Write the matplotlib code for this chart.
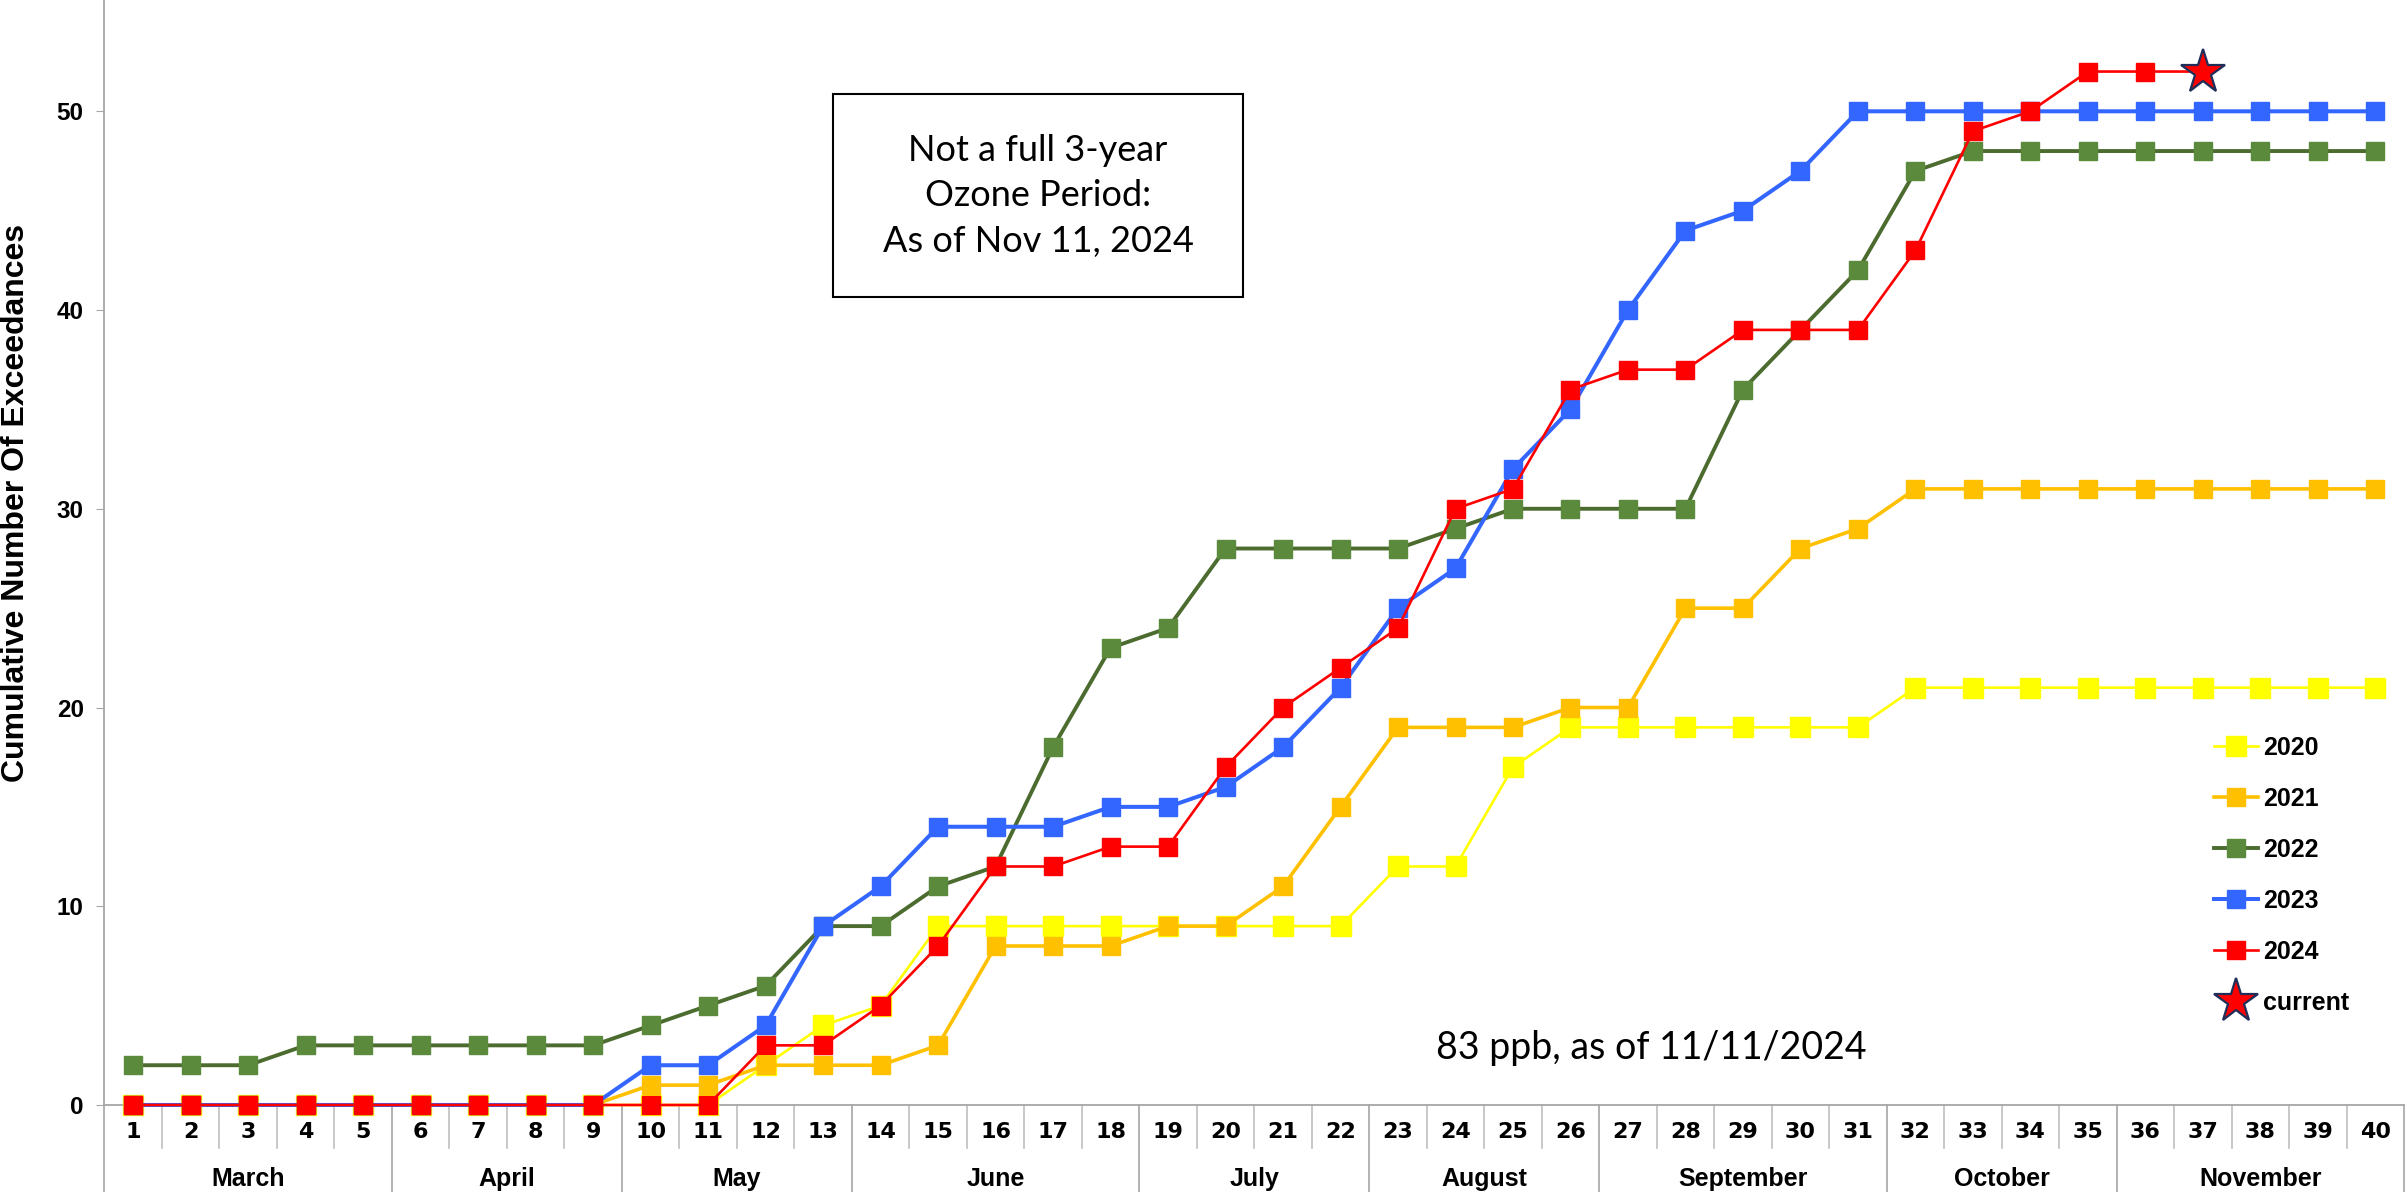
import matplotlib.pyplot as plt
import matplotlib.transforms as mtransforms
from matplotlib.patches import Rectangle

# week numbers and month groups under the axis
weeks = list(range(1, 41))
months = ['March', 'April', 'May', 'June', 'July', 'August', 'September', 'October', 'November']
weeks_per_month = [5, 4, 4, 5, 4, 4, 5, 4, 5]

# cumulative exceedances per week
y2020 = [0, 0, 0, 0, 0, 0, 0, 0, 0, 0, 0, 2, 4, 5, 9, 9, 9, 9, 9, 9,
         9, 9, 12, 12, 17, 19, 19, 19, 19, 19, 19, 21, 21, 21, 21, 21, 21, 21, 21, 21]
y2021 = [0, 0, 0, 0, 0, 0, 0, 0, 0, 1, 1, 2, 2, 2, 3, 8, 8, 8, 9, 9,
         11, 15, 19, 19, 19, 20, 20, 25, 25, 28, 29, 31, 31, 31, 31, 31, 31, 31, 31, 31]
y2022 = [2, 2, 2, 3, 3, 3, 3, 3, 3, 4, 5, 6, 9, 9, 11, 12, 18, 23, 24, 28,
         28, 28, 28, 29, 30, 30, 30, 30, 36, 39, 42, 47, 48, 48, 48, 48, 48, 48, 48, 48]
y2023 = [0, 0, 0, 0, 0, 0, 0, 0, 0, 2, 2, 4, 9, 11, 14, 14, 14, 15, 15, 16,
         18, 21, 25, 27, 32, 35, 40, 44, 45, 47, 50, 50, 50, 50, 50, 50, 50, 50, 50, 50]
y2024 = [0, 0, 0, 0, 0, 0, 0, 0, 0, 0, 0, 3, 3, 5, 8, 12, 12, 13, 13, 17,
         20, 22, 24, 30, 31, 36, 37, 37, 39, 39, 39, 43, 49, 50, 52, 52]
current_week = 37
current_value = 52

fig = plt.figure(figsize=(24.07, 11.92), dpi=100)
ax = fig.add_axes([0.0434, 0.073, 0.9554, 0.927])

ax.plot(weeks, y2020, color='#FFFF00', lw=1.9, marker='s', ms=14.5,
        mfc='#FFFF00', mec='#FFFF00', label='2020', clip_on=False, zorder=3)
ax.plot(weeks, y2021, color='#FFC000', lw=2.6, marker='s', ms=12.5,
        mfc='#FFC000', mec='#FFC000', label='2021', clip_on=False, zorder=3)
ax.plot(weeks, y2022, color='#4B6B2F', lw=2.8, marker='s', ms=12.5,
        mfc='#5B8A3C', mec='#5B8A3C', label='2022', clip_on=False, zorder=3)
ax.plot(weeks, y2023, color='#3366FF', lw=2.9, marker='s', ms=12.5,
        mfc='#3366FF', mec='#3366FF', label='2023', clip_on=False, zorder=3)
# 2024 line runs on to the current point
x24 = weeks[:len(y2024)] + [current_week]
ax.plot(x24, y2024 + [current_value], color='#FF0000', lw=1.9, marker='s', ms=12.5,
        mfc='#FF0000', mec='#FF0000', markevery=list(range(len(y2024))),
        label='2024', clip_on=False, zorder=4)
ax.plot([current_week], [current_value], ls='none', marker='*', ms=33,
        mfc='#FF0000', mec='#1F2F5A', mew=1.6, label='current', zorder=5)

ax.set_xlim(0.5, 40.5)
ax.set_ylim(0, 55.6)
ax.set_yticks([0, 10, 20, 30, 40, 50])
ax.set_xticks(weeks)
ax.set_xticklabels([str(w) for w in weeks], fontfamily='DejaVu Sans',
                   fontweight='bold', fontsize=16)
for lab in ax.get_yticklabels():
    lab.set_fontfamily('Liberation Sans')
    lab.set_fontweight('bold')
    lab.set_fontsize(17.5)
ax.tick_params(axis='x', length=0, pad=12)
ax.tick_params(axis='y', length=6, color='#A6A6A6', pad=9)

for s in ['top', 'right']:
    ax.spines[s].set_visible(False)
ax.spines['left'].set_color('#A6A6A6')
ax.spines['bottom'].set_color('#A6A6A6')
ax.spines['left'].set_linewidth(1.3)
ax.spines['bottom'].set_linewidth(1.3)

# separators under the axis
trans = mtransforms.blended_transform_factory(ax.transData, ax.transAxes)
edges = [0.5]
for n in weeks_per_month:
    edges.append(edges[-1] + n)
for w in range(41):
    x = w + 0.5
    low = -0.08 if x in edges else -0.039
    color = '#A6A6A6' if x in edges else '#BFBFBF'
    ax.plot([x, x], [0, low], color=color, lw=1.2, transform=trans, clip_on=False)
for i, m in enumerate(months):
    ax.text((edges[i] + edges[i + 1]) / 2, -0.0735, m, transform=trans,
            ha='center', va='baseline', fontfamily='Liberation Sans',
            fontweight='bold', fontsize=18)

fig.text(0.0065, 1 - 503 / 1192, 'Cumulative Number Of Exceedances', rotation=90,
         ha='center', va='center', fontfamily='Liberation Sans',
         fontweight='bold', fontsize=23)

leg = ax.legend(loc='upper left', bbox_to_anchor=(2214 / 2407, 1 - 736 / 1192),
                bbox_transform=fig.transFigure, frameon=False, borderpad=0,
                borderaxespad=0, handlelength=1.75, handletextpad=0.2,
                labelspacing=1.08, prop={'family': 'Liberation Sans',
                                          'weight': 'bold', 'size': 18})

# note box
fig.patches.append(Rectangle((833 / 2407, 1 - 297 / 1192), 410 / 2407, 203 / 1192,
                             transform=fig.transFigure, fill=False,
                             edgecolor='black', lw=1.5))
fig.text(1038 / 2407, 1 - 196 / 1192,
         'Not a full 3-year\nOzone Period:\nAs of Nov 11, 2024',
         ha='center', va='center', fontfamily='Lato', fontsize=26,
         linespacing=1.45)
fig.text(1651 / 2407, 1 - 1048 / 1192, '83 ppb, as of 11/11/2024',
         ha='center', va='center', fontfamily='Lato', fontsize=27)

fig.savefig('out.png', dpi=100)
